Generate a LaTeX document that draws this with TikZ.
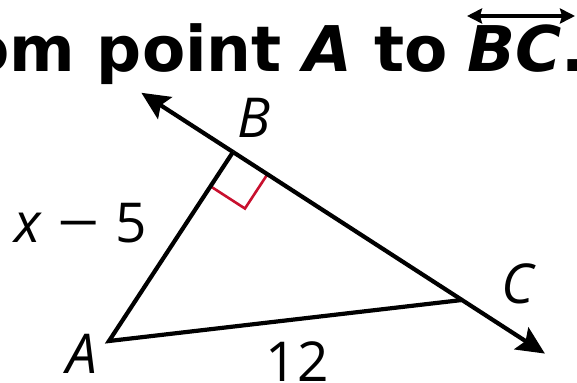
\documentclass[tikz,border=0pt]{standalone}
\usepackage{fontspec}
\setmainfont{Open Sans}
\newfontfamily\titlefont{DejaVu Sans}[BoldFont={DejaVu Sans Bold},BoldItalicFont={DejaVu Sans Bold Oblique},ItalicFont={DejaVu Sans Oblique}]
\usetikzlibrary{arrows.meta,calc}
\definecolor{markred}{RGB}{200,16,46}
\begin{document}
\begin{tikzpicture}[x=1pt,y=-1pt,
  edge/.style={line width=4.2pt,line join=miter,black},
  bigtip/.style={-{Stealth[length=28pt,width=26pt,inset=5pt]}},
  lbl/.style={inner sep=0pt,font=\fontsize{55}{60}\selectfont},
  ttl/.style={inner sep=0pt,font=\titlefont\bfseries\fontsize{63}{70}\selectfont}]
\useasboundingbox (0,0) rectangle (577,382);
% title
\node[ttl,anchor=base west] (bc) at (467,72) {\itshape BC};
\node[ttl,anchor=base east] (t1) at (bc.base west) {om point {\itshape A} to\kern0.3em};
\node[ttl,anchor=base west] (dot) at (bc.base east) {.};
\coordinate (ol1) at (467,16);
\coordinate (ol2) at (575,16);
\draw[line width=3.3pt,{Stealth[length=15pt,width=15pt,inset=2pt]}-{Stealth[length=15pt,width=15pt,inset=2pt]}] (ol1) -- (ol2);
% points
\coordinate (A) at (109,341);
\coordinate (B) at (233,152);
\coordinate (C) at (462,300);
\coordinate (T1) at ($(B)!-0.40!(C)$);
\coordinate (T2) at ($(C)!-0.362!(B)$);
% right angle mark
\coordinate (m1) at ($(B)!41pt!(A)$);
\coordinate (m3) at ($(B)!41pt!(C)$);
\coordinate (m2) at ($(m1)+(m3)-(B)$);
\draw[markred,line width=2.6pt,line join=miter] (m1) -- (m2) -- (m3);
% lines
\draw[edge,bigtip] (B) -- (T1);
\draw[edge,bigtip] (B) -- (T2);
\draw[edge] (B) -- (A) -- (C);
% labels
\node[lbl] (lA) at (82,354) {\itshape A};
\node[lbl] (lB) at (254,118) {\itshape B};
\node[lbl] (lC) at (518,284) {\itshape C};
\node[lbl] (lAB) at (81,223) {{\itshape x}\kern16pt\scalebox{1.35}[1]{−}\kern16pt5};
\node[lbl] (lAC) at (297,362) {12};
\end{tikzpicture}
\end{document}
